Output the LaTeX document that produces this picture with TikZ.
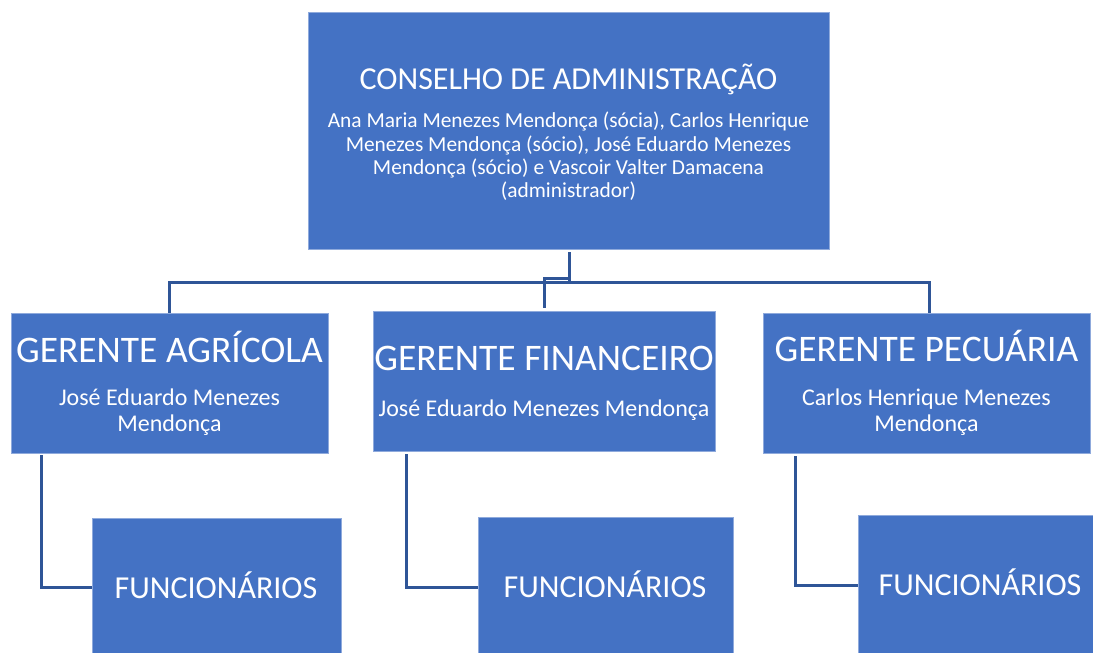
\documentclass[tikz,border=0pt]{standalone}
\usepackage{fontspec}
\setmainfont{Carlito}
\definecolor{boxblue}{HTML}{4472C4}
\definecolor{boxedge}{HTML}{8FAADC}
\definecolor{linkblue}{HTML}{2F5597}
\newcommand{\ttlfont}{\fontsize{32}{36}\selectfont}
\newcommand{\gerfont}{\fontsize{37.5}{42}\selectfont}
\newcommand{\subfont}{\fontsize{21.4}{23.4}\selectfont}
\newcommand{\gsubfont}{\fontsize{24}{26}\selectfont}
\newcommand{\funcfont}{\fontsize{32}{36}\selectfont}
\tikzset{
  box/.style={rectangle, fill=boxblue, draw=boxedge, line width=0.6pt, inner sep=0pt, anchor=north west},
  txt/.style={text=white, align=center, inner sep=0pt},
  link/.style={draw=linkblue, line width=3pt}
}
\begin{document}
\begin{tikzpicture}[x=1pt,y=-1pt]
\useasboundingbox (0,0) rectangle (1093,653);
\begin{scope}
\clip (0,0) rectangle (1093,653);
% boxes
\node[box, minimum width=521, minimum height=237] (cons) at (308,12) {};
\node[box, minimum width=317, minimum height=140] (agr) at (11,313) {};
\node[box, minimum width=342, minimum height=140] (fin) at (373,311) {};
\node[box, minimum width=327, minimum height=140] (pec) at (763,313) {};
\node[box, minimum width=249, minimum height=140] (fa) at (92,518) {};
\node[box, minimum width=255, minimum height=140] (ff) at (478,517) {};
\node[box, minimum width=240, minimum height=140] (fp) at (858,515) {};
% texts
\node[txt, font=\ttlfont, anchor=base] (consT) at (568.5,89) {CONSELHO DE ADMINISTRAÇÃO};
\node[txt, font=\subfont, anchor=center] (consS) at (568.5,156.5) {Ana Maria Menezes Mendonça (sócia), Carlos Henrique\\Menezes Mendonça (sócio), José Eduardo Menezes\\Mendonça (sócio) e Vascoir Valter Damacena\\(administrador)};
\node[txt, font=\gerfont, anchor=center] (agrT) at (169.5,346.5) {GERENTE AGRÍCOLA};
\node[txt, font=\gsubfont, anchor=center] (agrS) at (169.5,412) {José Eduardo Menezes\\Mendonça};
\node[txt, font=\gerfont, anchor=center] (finT) at (544,358) {GERENTE FINANCEIRO};
\node[txt, font=\gsubfont, anchor=center] (finS) at (544,410.5) {José Eduardo Menezes Mendonça};
\node[txt, font=\gerfont, anchor=center] (pecT) at (926.5,345.5) {GERENTE PECUÁRIA};
\node[txt, font=\gsubfont, anchor=center] (pecS) at (926.5,412) {Carlos Henrique Menezes\\Mendonça};
\node[txt, font=\funcfont, anchor=center] (faT) at (216,585) {FUNCIONÁRIOS};
\node[txt, font=\funcfont, anchor=center] (ffT) at (605,584) {FUNCIONÁRIOS};
\node[txt, font=\funcfont, anchor=center] (fpT) at (980,582) {FUNCIONÁRIOS};
% connectors
\coordinate (hub) at (569,282);
\draw[link] (569,252) -- (hub) -| (agr.north -| 169,0);
\draw[link] (hub) -| (929,313);
\draw[link] (569,278) -- (544,278) -- (544,308);
\draw[link] (41,455) |- (fa.west |- 0,587);
\draw[link] (406,454) |- (ff.west |- 0,587);
\draw[link] (795,456) |- (fp.west |- 0,585);
\end{scope}
\end{tikzpicture}
\end{document}
